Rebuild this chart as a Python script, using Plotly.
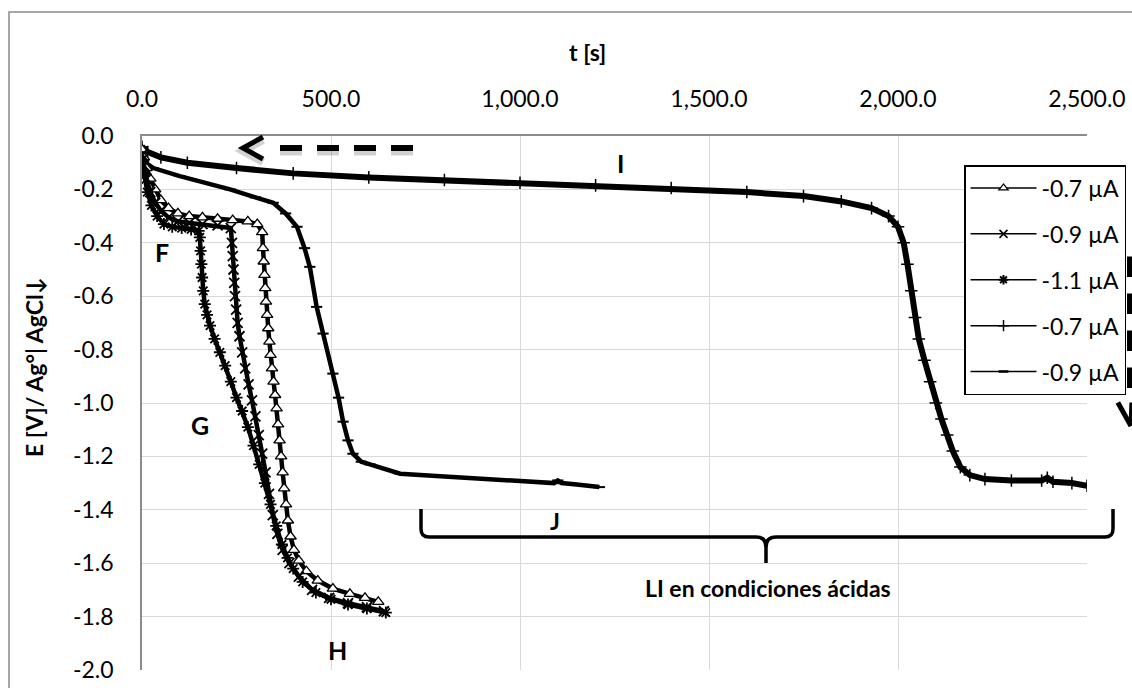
import plotly.graph_objects as go

# ---------------- data ----------------
# -0.7 uA (triangles)
t_s1 = [0, 5, 12, 22, 35, 50, 70, 95, 125, 160, 200, 240, 280, 305, 318, 320, 322, 324, 326, 328,
        331, 334, 337, 340, 344, 348, 352, 356, 360, 364, 368, 372, 376, 381, 386, 393, 402, 415,
        435, 465, 505, 550, 590, 625]
e_s1 = [-0.05, -0.08, -0.12, -0.16, -0.20, -0.24, -0.27, -0.29, -0.30, -0.305, -0.31, -0.315,
        -0.32, -0.33, -0.36, -0.42, -0.47, -0.52, -0.57, -0.62, -0.67, -0.72, -0.77, -0.82, -0.87,
        -0.92, -0.97, -1.02, -1.08, -1.14, -1.20, -1.26, -1.32, -1.38, -1.44, -1.50, -1.55, -1.59,
        -1.63, -1.665, -1.695, -1.715, -1.73, -1.745]

# -0.9 uA (crosses)
t_s2 = [0, 5, 12, 22, 35, 50, 70, 95, 125, 160, 200, 235, 238, 240, 242, 244, 246, 249, 253, 258,
        265, 273, 282, 291, 300, 309, 318, 327, 336, 346, 358, 372, 390, 415, 450, 495, 545, 595, 640]
e_s2 = [-0.07, -0.11, -0.16, -0.21, -0.25, -0.28, -0.305, -0.32, -0.325, -0.33, -0.335, -0.345,
        -0.40, -0.45, -0.50, -0.55, -0.60, -0.65, -0.70, -0.75, -0.81, -0.87, -0.93, -0.99, -1.05,
        -1.12, -1.19, -1.26, -1.34, -1.42, -1.49, -1.55, -1.60, -1.65, -1.70, -1.73, -1.75, -1.765,
        -1.78]

# -1.1 uA (asterisks)
t_s3 = [0, 6, 14, 25, 40, 58, 80, 105, 130, 150, 153, 155, 157, 159, 162, 166, 172, 180, 192, 206,
        220, 235, 250, 265, 280, 295, 310, 325, 340, 355, 370, 385, 400, 425, 460, 500, 545, 595, 645]
e_s3 = [-0.09, -0.15, -0.21, -0.26, -0.30, -0.33, -0.34, -0.345, -0.35, -0.355, -0.38, -0.43,
        -0.48, -0.53, -0.58, -0.63, -0.67, -0.71, -0.76, -0.81, -0.86, -0.92, -0.98, -1.03, -1.09,
        -1.16, -1.23, -1.30, -1.38, -1.46, -1.53, -1.58, -1.62, -1.67, -1.71, -1.735, -1.755, -1.77,
        -1.785]

# -0.7 uA (plus), acid conditions
t_s4 = [0, 15, 50, 120, 250, 400, 600, 800, 1000, 1200, 1400, 1600, 1750, 1850, 1930, 1975, 2000,
        2015, 2025, 2035, 2045, 2055, 2070, 2085, 2100, 2115, 2130, 2145, 2165, 2190, 2230, 2300,
        2380, 2395, 2410, 2460, 2500]
e_s4 = [-0.04, -0.06, -0.08, -0.10, -0.12, -0.14, -0.155, -0.165, -0.175, -0.185, -0.195, -0.21,
        -0.225, -0.245, -0.27, -0.30, -0.34, -0.40, -0.48, -0.58, -0.68, -0.76, -0.84, -0.92, -1.00,
        -1.06, -1.12, -1.18, -1.24, -1.27, -1.285, -1.29, -1.29, -1.28, -1.295, -1.30, -1.31]

# -0.9 uA (dash), acid conditions
t_s5 = [0, 30, 100, 233, 300, 347, 380, 410, 430, 444, 462, 479, 505, 520, 532, 545, 558, 580,
        603, 683, 800, 950, 1090, 1100, 1110, 1150, 1210]
e_s5 = [-0.09, -0.12, -0.15, -0.20, -0.23, -0.25, -0.29, -0.34, -0.42, -0.49, -0.64, -0.74, -0.89,
        -0.98, -1.07, -1.14, -1.19, -1.22, -1.23, -1.265, -1.275, -1.29, -1.30, -1.29, -1.30, -1.305,
        -1.315]

series_names = ["-0.7 µA", "-0.9 µA", "-1.1 µA", "-0.7 µA", "-0.9 µA"]

x_tick_vals = [0, 500, 1000, 1500, 2000, 2500]
x_tick_text = ["0.0", "500.0", "1,000.0", "1,500.0", "2,000.0", "2,500.0"]
y_tick_vals = [0, -0.2, -0.4, -0.6, -0.8, -1.0, -1.2, -1.4, -1.6, -1.8, -2.0]
y_tick_text = ["0.0", "-0.2", "-0.4", "-0.6", "-0.8", "-1.0", "-1.2", "-1.4", "-1.6", "-1.8", "-2.0"]

# ---------------- figure ----------------
W, H = 1132, 688
L, R, T, B = 142, 1087, 136, 670   # plot area in pixels
FONT = "Lato"


def px(x):
    return (x - L) / (R - L)


def py(y):
    return (B - y) / (B - T)


fig = go.Figure()

markers = [
    dict(symbol="triangle-up", size=10, color="white", line=dict(color="black", width=1.3)),
    dict(symbol="x-thin-open", size=10, color="black", line=dict(color="black", width=1.8)),
    dict(symbol="asterisk-open", size=10, color="black", line=dict(color="black", width=1.8)),
    dict(symbol="cross-thin-open", size=9, color="black", line=dict(color="black", width=1.5)),
    dict(symbol="line-ew-open", size=8, color="black", line=dict(color="black", width=2)),
]
legend_markers = [
    dict(symbol="triangle-up", size=8, color="white", line=dict(color="black", width=1.3)),
    dict(symbol="x-thin-open", size=8, color="black", line=dict(color="black", width=1.5)),
    dict(symbol="asterisk-open", size=8, color="black", line=dict(color="black", width=2)),
    dict(symbol="cross-thin-open", size=8, color="black", line=dict(color="black", width=1.5)),
    dict(symbol="line-ew-open", size=7, color="black", line=dict(color="black", width=2.5)),
]
widths = [4.5, 4.5, 4.5, 6, 4.5]
data = [(t_s1, e_s1), (t_s2, e_s2), (t_s3, e_s3), (t_s4, e_s4), (t_s5, e_s5)]

# long acid-condition runs first, short runs drawn over them
for i in (3, 4, 0, 1, 2):
    t, e = data[i]
    fig.add_trace(go.Scatter(
        x=t, y=e, name=series_names[i], mode="lines+markers",
        line=dict(color="black", width=widths[i]),
        marker=markers[i], showlegend=False,
    ))

# legend entries with the thin sample line
for i, name in enumerate(series_names):
    fig.add_trace(go.Scatter(
        x=[None], y=[None], name=name, mode="lines+markers",
        line=dict(color="black", width=1.5), marker=legend_markers[i],
        legendgroup=f"g{i}", showlegend=True,
    ))

grid = "#d9d9d9"
fig.update_xaxes(
    side="top", range=[0, 2500], tickvals=x_tick_vals, ticktext=x_tick_text,
    showgrid=True, gridcolor=grid, gridwidth=1.3,
    showline=True, linecolor="#8c8c8c", linewidth=1.5, zeroline=False,
    ticks="", ticklabelstandoff=18,
    tickfont=dict(family=FONT, size=23, color="black"),
)
fig.update_yaxes(
    range=[-2.0, 0], tickvals=y_tick_vals, ticktext=y_tick_text,
    showgrid=True, gridcolor=grid, gridwidth=1.3,
    showline=True, linecolor="#8c8c8c", linewidth=1.5, zeroline=False,
    ticks="", ticklabelstandoff=22,
    tickfont=dict(family=FONT, size=23, color="black"),
)

annotations = []


def label(text, x, y, size=23, bold=True, angle=0):
    annotations.append(dict(
        text=f"<b>{text}</b>" if bold else text, x=px(x), y=py(y), xref="paper", yref="paper",
        showarrow=False, xanchor="center", yanchor="middle", textangle=angle,
        font=dict(family=FONT, size=size, color="black"),
    ))


label("t [s]", 587, 52)
label("E [V]/ Ag°| AgCl↓", 34, 367, angle=-90)
label("F", 162, 252, size=25)
label("G", 200, 425, size=25)
label("H", 337, 650, size=25)
label("I", 620, 163, size=25)
label("J", 555, 521, size=23)
label("LI en condiciones ácidas", 768, 588, size=23)


def stroke(x0, y0, x1, y1, width):
    # a straight thick segment drawn as a headless annotation arrow
    annotations.append(dict(
        x=px(x1), y=py(y1), ax=x0 - x1, ay=y0 - y1, xref="paper", yref="paper",
        axref="pixel", ayref="pixel", text="", showarrow=True, arrowhead=0,
        arrowwidth=width, arrowcolor="black", standoff=0, startstandoff=0,
    ))


# dashed arrow on the right edge, pointing down
for y0 in (255, 292, 329, 366):
    stroke(1131, y0, 1131, y0 + 22, 8)
stroke(1117, 401, 1131, 426, 5)
stroke(1145, 401, 1131, 426, 5)

shapes = []

# outer chart frame
shapes.append(dict(type="rect", xref="paper", yref="paper", x0=px(9), y0=py(12), x1=px(1145),
                   y1=py(705), line=dict(color="#8a8a8a", width=1.5), layer="below"))

# dashed arrow pointing to the time origin (with soft shadow)
for off, col, w in ((3, "rgba(0,0,0,0.18)", 9), (0, "black", 6)):
    shapes.append(dict(type="line", xref="paper", yref="paper", x0=px(280), y0=py(148 + off),
                       x1=px(416), y1=py(148 + off),
                       line=dict(color=col, width=w, dash="22px,15px")))
    shapes.append(dict(type="path", xref="paper", yref="paper",
                       path=f"M{px(263)},{py(137 + off)} L{px(243)},{py(148 + off)} L{px(263)},{py(159 + off)}",
                       line=dict(color=col, width=w - 1)))


# brace under the acid-condition curves
def P(x, y):
    return f"{px(x)},{py(y)}"


brace_l = (f"M{P(421, 509)} L{P(421, 529)} Q{P(421, 537)} {P(429, 537)} L{P(756, 537)} "
           f"Q{P(766, 537)} {P(766, 547)} L{P(766, 563)}")
brace_r = (f"M{P(1113, 509)} L{P(1113, 529)} Q{P(1113, 537)} {P(1105, 537)} L{P(776, 537)} "
           f"Q{P(766, 537)} {P(766, 547)}")
for pth in (brace_l, brace_r):
    shapes.append(dict(type="path", xref="paper", yref="paper", path=pth,
                       line=dict(color="black", width=3.5)))

fig.update_layout(
    width=W, height=H,
    margin=dict(l=L, r=W - R, t=T, b=H - B, autoexpand=False),
    paper_bgcolor="white", plot_bgcolor="white",
    showlegend=True,
    legend=dict(
        x=px(964), y=py(165), xanchor="left", yanchor="top",
        bgcolor="white", bordercolor="black", borderwidth=1.5,
        font=dict(family=FONT, size=23, color="black"),
        tracegroupgap=13, traceorder="grouped", itemwidth=66,
    ),
    annotations=annotations,
    shapes=shapes,
)

fig.write_html("out.html")
